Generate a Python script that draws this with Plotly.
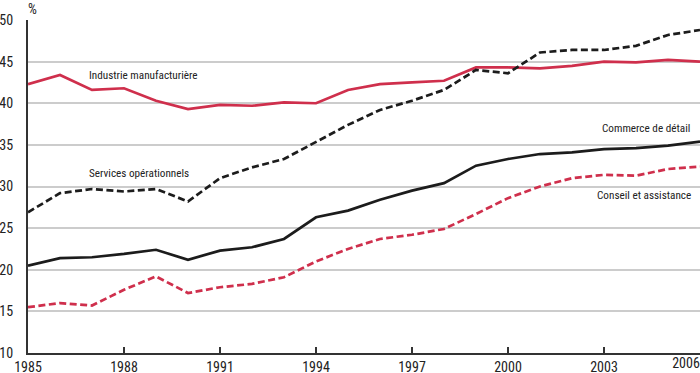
import plotly.graph_objects as go

years = list(range(1985, 2007))
industrie = [42.3, 43.4, 41.6, 41.8, 40.3, 39.3, 39.8, 39.7, 40.1, 40.0, 41.6, 42.3,
             42.5, 42.7, 44.3, 44.3, 44.2, 44.5, 45.0, 44.9, 45.2, 45.0]
services = [26.9, 29.2, 29.7, 29.4, 29.7, 28.2, 31.0, 32.3, 33.3, 35.4, 37.4, 39.2,
            40.3, 41.6, 44.0, 43.6, 46.1, 46.4, 46.4, 46.9, 48.2, 48.8]
commerce = [20.5, 21.4, 21.5, 21.9, 22.4, 21.2, 22.3, 22.7, 23.7, 26.3, 27.1, 28.4,
            29.5, 30.4, 32.5, 33.3, 33.9, 34.1, 34.5, 34.6, 34.9, 35.4]
conseil = [15.5, 16.0, 15.7, 17.6, 19.2, 17.2, 17.9, 18.3, 19.1, 21.0, 22.5, 23.7,
           24.2, 24.9, 26.7, 28.6, 30.0, 31.0, 31.4, 31.3, 32.1, 32.4]

x_tickvals = [1985, 1988, 1991, 1994, 1997, 2000, 2003, 2006]
x_ticktext = ["1985", "1988", "1991", "1994", "1997", "2000", "2003", "2006"]
y_tickvals = [10, 15, 20, 25, 30, 35, 40, 45, 50]

RED = "#cf2f4c"
BLACK = "#1c1c1c"
FONT = "Roboto Condensed, Liberation Sans Narrow, sans-serif"

fig = go.Figure()
fig.add_trace(go.Scatter(x=years, y=industrie, mode="lines",
                         line=dict(color=RED, width=2.7), hoverinfo="skip"))
fig.add_trace(go.Scatter(x=years, y=services, mode="lines",
                         line=dict(color=BLACK, width=2.7, dash="7px,3.5px"), hoverinfo="skip"))
fig.add_trace(go.Scatter(x=years, y=commerce, mode="lines",
                         line=dict(color=BLACK, width=2.7), hoverinfo="skip"))
fig.add_trace(go.Scatter(x=years, y=conseil, mode="lines",
                         line=dict(color=RED, width=2.7, dash="7px,3.5px"), hoverinfo="skip"))
# helper trace on the overlay axis that only carries the last tick label
fig.add_trace(go.Scatter(x=years, y=commerce, mode="lines", xaxis="x2",
                         line=dict(width=0), opacity=0, hoverinfo="skip"))

labels = [
    ("Industrie manufacturière", 1986.84, 43.3, "left"),
    ("Services opérationnels", 1986.84, 31.6, "left"),
    ("Commerce de détail", 2005.75, 37.0, "right"),
    ("Conseil et assistance", 2005.78, 28.9, "right"),
]
for text, lx, ly, anchor in labels:
    fig.add_annotation(x=lx, y=ly, text=text, showarrow=False, xanchor=anchor,
                       yanchor="middle", font=dict(family=FONT, size=11.2, color="#222"))

fig.add_annotation(xref="paper", yref="paper", x=0, y=1, xanchor="left", yanchor="bottom",
                   xshift=-2, yshift=1, text="%", showarrow=False,
                   font=dict(family=FONT, size=14, color="#222"))

fig.update_layout(
    width=700, height=373,
    margin=dict(l=28, r=0, t=20, b=20),
    paper_bgcolor="white", plot_bgcolor="white",
    showlegend=False,
    font=dict(family=FONT, size=14, color="#222"),
    xaxis=dict(range=[1985, 2006], tickvals=x_tickvals,
               ticktext=x_ticktext[:-1] + [""],
               ticks="inside", ticklen=6, tickwidth=1.5, tickcolor="#333",
               showgrid=False, zeroline=False,
               showline=True, linecolor="#333", linewidth=2,
               ticklabeloverflow="allow",
               automargin=False, tickfont=dict(family=FONT, size=14)),
    xaxis2=dict(overlaying="x", anchor="y", side="bottom", range=[1985, 2006],
                tickvals=[x_tickvals[-1]], ticktext=[x_ticktext[-1]],
                ticklabelshift=-14, ticklabeloverflow="allow",
                ticks="", showgrid=False, zeroline=False,
                showline=False, automargin=False,
                tickfont=dict(family=FONT, size=14)),
    yaxis=dict(range=[10, 50], tickvals=y_tickvals, ticks="",
               showgrid=True, gridcolor="#cccccc", gridwidth=1.5,
               zeroline=False, showline=True, linecolor="#333", linewidth=2,
               ticklabelstandoff=10, ticklabeloverflow="allow", automargin=False,
               tickfont=dict(family=FONT, size=14)),
)

fig.write_html("out.html", config={"displayModeBar": False},
               post_script="document.body.style.margin='0';")
